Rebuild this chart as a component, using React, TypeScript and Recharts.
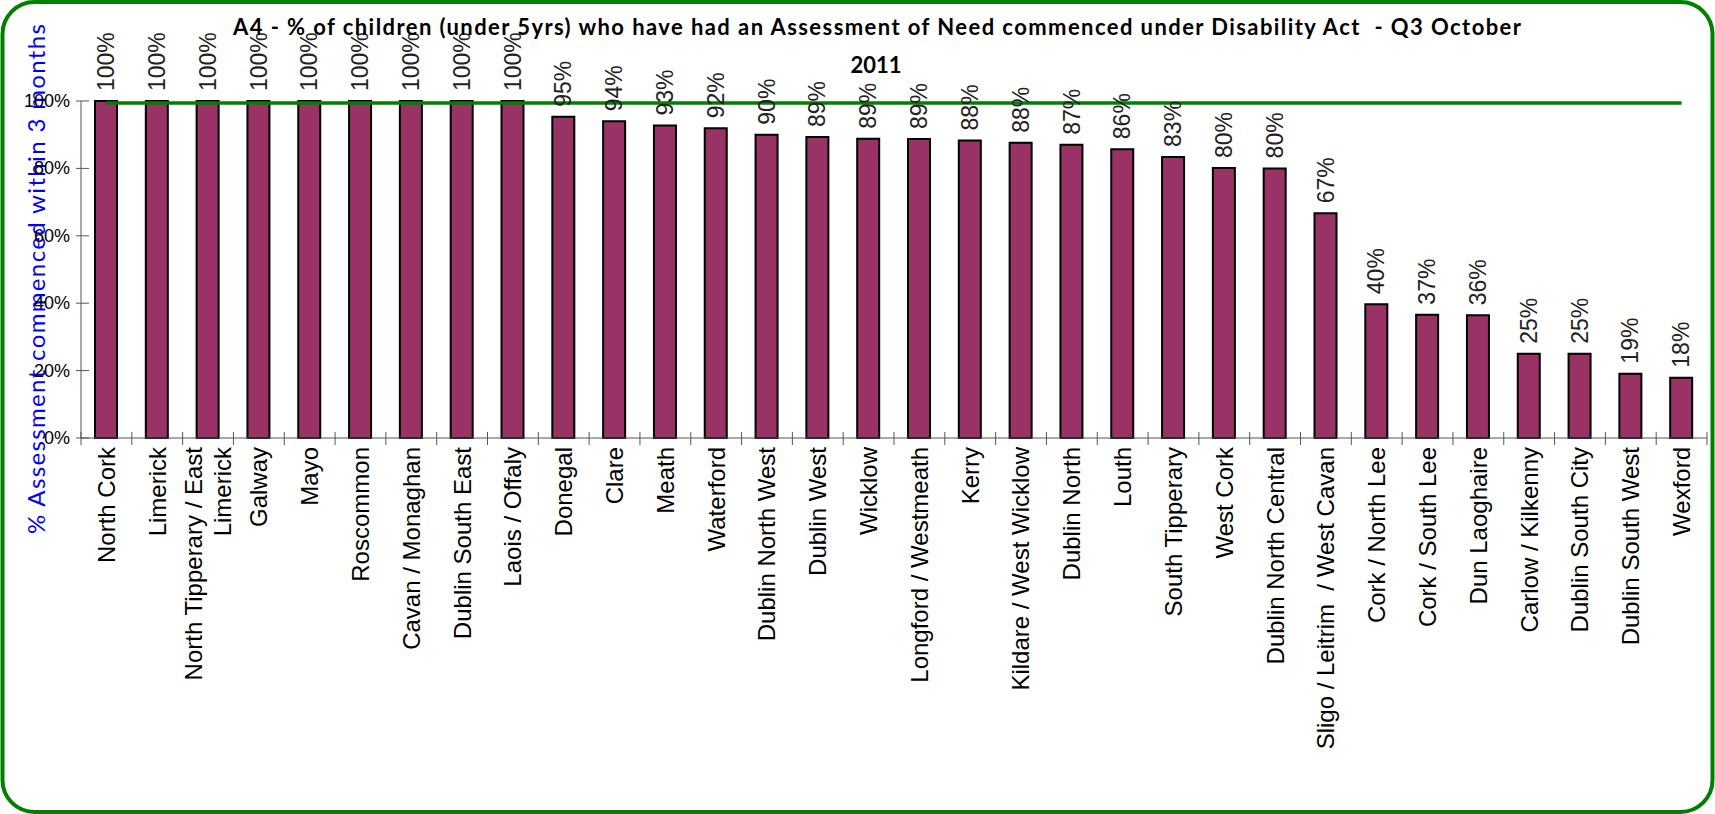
import React from 'react'
import { ComposedChart, Bar, Line, XAxis, YAxis, LabelList, Label } from 'recharts'

// areas, in the order shown
const categories = [
  'North Cork', 'Limerick', 'North Tipperary / East Limerick', 'Galway', 'Mayo', 'Roscommon',
  'Cavan / Monaghan', 'Dublin South East', 'Laois / Offaly', 'Donegal', 'Clare', 'Meath',
  'Waterford', 'Dublin North West', 'Dublin West', 'Wicklow', 'Longford / Westmeath', 'Kerry',
  'Kildare / West Wicklow', 'Dublin North', 'Louth', 'South Tipperary', 'West Cork',
  'Dublin North Central', 'Sligo / Leitrim  / West Cavan', 'Cork / North Lee', 'Cork / South Lee',
  'Dun Laoghaire', 'Carlow / Kilkenny', 'Dublin South City', 'Dublin South West', 'Wexford',
]

// % assessments commenced within 3 months
const commenced = [
  100, 100, 100, 100, 100, 100, 100, 100, 100, 95.3, 94.0, 92.7,
  91.9, 90.0, 89.3, 88.8, 88.7, 88.3, 87.6, 87.0, 85.7, 83.4, 80.1,
  80.0, 66.7, 39.7, 36.6, 36.4, 25.0, 25.0, 19.1, 17.9,
]

const targetLevel = 99.4
const yTicks = [0, 20, 40, 60, 80, 100]

const titleLine1 = 'A4 - % of children (under 5yrs) who have had an Assessment of Need commenced under Disability Act  - Q3 October'
const titleLine2 = '2011'
const yTitle = '% Assessment commenced within 3 months'

const data = categories.map((name, i) => ({ name, pct: commenced[i], target: targetLevel }))

const AXIS = '#555'

function wrapLabel(s: string) {
  if (s.length <= 30) return [s]
  const cut = s.lastIndexOf(' ')
  return [s.slice(0, cut), s.slice(cut + 1)]
}

function XTick(props: any) {
  const { x, y, payload, index } = props
  const half = payload.offset ?? (props.width ? props.width / categories.length / 2 : 25.4)
  const lines = wrapLabel(payload.value)
  const n = lines.length
  return (
    <g>
      <line x1={x - half} x2={x - half} y1={y - 6} y2={y + 7} stroke={AXIS} />
      {index === categories.length - 1 && (
        <line x1={x + half} x2={x + half} y1={y - 6} y2={y + 7} stroke={AXIS} />
      )}
      <g transform={`translate(${x},${y + 9}) rotate(-90)`}>
        {lines.map((l, i) => (
          <text key={i} x={0} y={0} dy={`${(i - (n - 1) / 2) * 1.2 + 0.35}em`} textAnchor="end"
            fontSize={24} fontFamily="'Liberation Sans', Arial, sans-serif" fill="#000"
            style={{ whiteSpace: 'pre' }}>
            {l}
          </text>
        ))}
      </g>
    </g>
  )
}

function YTick({ x, y, payload }: any) {
  return (
    <g>
      <line x1={x - 5} x2={x + 8} y1={y} y2={y} stroke={AXIS} />
      <text x={x - 11} y={y} textAnchor="end" dominantBaseline="central" fontSize={18}
        fontFamily="'Liberation Sans', Arial, sans-serif" fill="#000">
        {payload.value}%
      </text>
    </g>
  )
}

function ValueLabel({ x, y, width, value }: any) {
  const cx = x + width / 2
  return (
    <text transform={`translate(${cx},${y - 10}) rotate(-90)`} dy="0.35em" textAnchor="start"
      fontSize={23} fontFamily="'Liberation Sans Narrow', 'Arial Narrow', 'Liberation Sans', sans-serif"
      fill="#222">
      {Math.round(value)}%
    </text>
  )
}

function YTitle({ viewBox }: any) {
  const cy = viewBox.y + viewBox.height / 2
  return (
    <text transform={`translate(45,${279}) rotate(-90)`} textAnchor="middle" fontSize={24}
      fontFamily="Lato, sans-serif" fill="#0000FF" textLength={510} lengthAdjust="spacing"
      data-cy={cy}>
      {yTitle}
    </text>
  )
}

export default function App() {
  return (
    <div style={{ position: 'relative', width: 1715, height: 814, background: '#fff' }}>
      <style>{'body{margin:0}'}</style>
      <ComposedChart width={1715} height={814} data={data}
        margin={{ top: 101, right: 8, bottom: 6, left: 0 }} barCategoryGap={0}>
        <XAxis dataKey="name" interval={0} height={370} tickSize={0} tickMargin={0}
          tickLine={false} stroke={AXIS} tick={<XTick />} />
        <YAxis domain={[0, 100]} ticks={yTicks} width={81} tickSize={0} tickMargin={0}
          tickLine={false} stroke={AXIS} tick={<YTick />}>
          <Label content={<YTitle />} />
        </YAxis>
        <Bar dataKey="pct" fill="#993366" stroke="#000" strokeWidth={2} barSize={22}
          isAnimationActive={false}>
          <LabelList dataKey="pct" content={<ValueLabel />} />
        </Bar>
        <Line dataKey="target" stroke="#008000" strokeWidth={3.5} dot={false}
          activeDot={false} type="linear" isAnimationActive={false} />
      </ComposedChart>
      <svg width={1715} height={814} style={{ position: 'absolute', left: 0, top: 0, pointerEvents: 'none' }}>
        <rect x={2.5} y={2} width={1710} height={810} rx={32} fill="none" stroke="#008000" strokeWidth={4} />
        <text x={877} y={35} textAnchor="middle" fontSize={22} fontWeight="bold"
          fontFamily="Lato, sans-serif" fill="#000" textLength={1288} lengthAdjust="spacing"
          style={{ whiteSpace: 'pre' }}>
          {titleLine1}
        </text>
        <text x={876} y={73} textAnchor="middle" fontSize={22} fontWeight="bold"
          fontFamily="Lato, sans-serif" fill="#000">
          {titleLine2}
        </text>
      </svg>
    </div>
  )
}
